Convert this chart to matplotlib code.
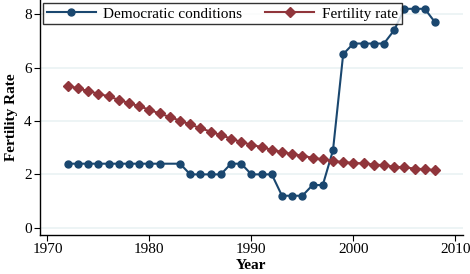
import matplotlib
matplotlib.use('Agg')
import matplotlib.pyplot as plt
import numpy as np

# Data
dem_years = [1972, 1973, 1974, 1975, 1976, 1977, 1978, 1979, 1980, 1981,
             1983, 1984, 1985, 1986, 1987, 1988, 1989, 1990, 1991, 1992,
             1993, 1994, 1995, 1996, 1997, 1998, 1999, 2000, 2001, 2002,
             2003, 2004, 2005, 2006, 2007, 2008]
dem_values = [2.4, 2.4, 2.4, 2.4, 2.4, 2.4, 2.4, 2.4, 2.4, 2.4,
              2.4, 2.0, 2.0, 2.0, 2.0, 2.4, 2.4, 2.0, 2.0, 2.0,
              1.2, 1.2, 1.2, 1.6, 1.6, 2.9, 6.5, 6.9, 6.9, 6.9,
              6.9, 7.4, 8.2, 8.2, 8.2, 7.7]

fert_years = list(range(1972, 2009))
fert_values = [5.32, 5.22, 5.12, 5.02, 4.92, 4.79, 4.67, 4.55, 4.42, 4.28,
               4.15, 4.01, 3.87, 3.73, 3.60, 3.47, 3.34, 3.21, 3.11, 3.02,
               2.92, 2.84, 2.76, 2.70, 2.62, 2.56, 2.50, 2.46, 2.43, 2.41,
               2.37, 2.34, 2.29, 2.26, 2.22, 2.19, 2.16]

navy = '#1a476f'
maroon = '#90353b'

plt.rcParams['font.family'] = ['Liberation Serif', 'DejaVu Serif']

fig = plt.figure(figsize=(4.7, 2.74), dpi=100)
ax = fig.add_axes([40 / 470, 1 - 235 / 274, 423 / 470, 235 / 274])

ax.plot(dem_years, dem_values, color=navy, marker='o', markersize=5,
        linewidth=1.5, label='Democratic conditions', zorder=3)
ax.plot(fert_years, fert_values, color=maroon, marker='D', markersize=5.5,
        linewidth=1.5, label='Fertility rate', zorder=3)

ax.set_xlim(1969.27, 2010.75)
ax.set_ylim(-0.27, 8.53)
ax.set_xticks([1970, 1980, 1990, 2000, 2010])
ax.set_yticks([0, 2, 4, 6, 8])
ax.yaxis.grid(True, color='#eaf2f3', linewidth=1.2)
ax.set_axisbelow(True)

for side in ['top', 'right']:
    ax.spines[side].set_visible(False)
ax.spines['left'].set_linewidth(1.0)
ax.spines['bottom'].set_linewidth(1.0)
ax.tick_params(labelsize=11, length=4, width=0.8, pad=2)

ax.set_xlabel('Year', fontsize=11, fontweight='bold', labelpad=2)
ax.set_ylabel('Fertility Rate', fontsize=11, fontweight='bold', labelpad=4)

leg = ax.legend(loc='upper left', ncol=2, fontsize=11, frameon=True,
                fancybox=False, edgecolor='black', borderpad=0.25,
                handlelength=3.2, columnspacing=1.5, handletextpad=0.5,
                borderaxespad=0.2, bbox_to_anchor=(0.0, 1.0))
leg.get_frame().set_linewidth(1.0)

fig.savefig('out.png', dpi=100)
